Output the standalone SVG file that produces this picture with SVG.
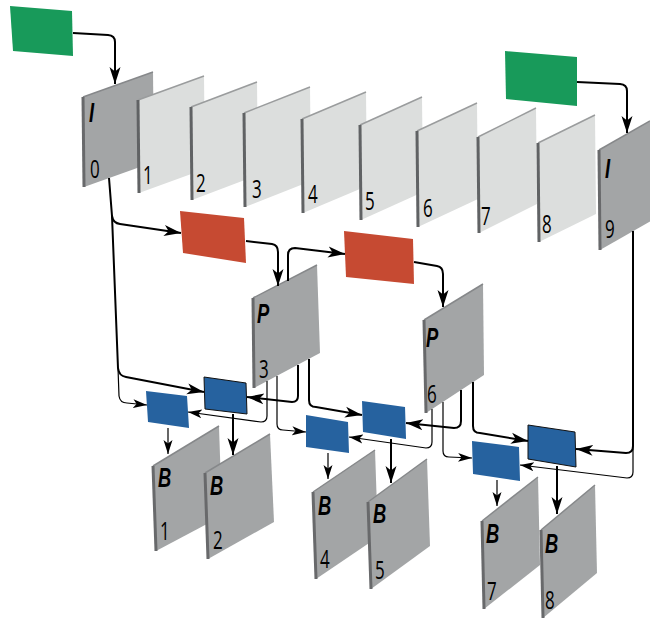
<svg xmlns="http://www.w3.org/2000/svg" width="650" height="622" viewBox="0 0 650 622">
<defs>
<style>
.fd{fill:#a3a5a6}
.fl{fill:#dcdedd}
.sd{stroke:#68696b;stroke-width:3;fill:none}
.sl{stroke:#606264;stroke-width:3;fill:none}
.td{stroke:#86888a;stroke-width:1.5;fill:none}
.tl{stroke:#9a9c9d;stroke-width:1.5;fill:none}
.green{fill:#189a5a}
.red{fill:#c64a32}
.blue{fill:#26629f}
.blueb{fill:#26629f;stroke:#111;stroke-width:1}
.lt{font-family:"Liberation Sans",Arial,sans-serif;font-weight:bold;font-style:italic;font-size:27px;fill:#000}
.num{font-family:"Open Sans","Liberation Sans",sans-serif;font-weight:400;font-size:25px;fill:#000}
.thick{fill:none;stroke:#000;stroke-width:2;marker-end:url(#ah)}
.thin{fill:none;stroke:#000;stroke-width:1.2;marker-end:url(#ahs)}
</style>
<marker id="ah" markerUnits="userSpaceOnUse" markerWidth="18" markerHeight="14" viewBox="0 0 18 14" refX="17" refY="7" orient="auto">
<path d="M0,1.5 L17,7 L0,12.5 L4.5,7 Z" fill="#000"/>
</marker>
<marker id="ahs" markerUnits="userSpaceOnUse" markerWidth="15" markerHeight="11" viewBox="0 0 15 11" refX="14" refY="5.5" orient="auto">
<path d="M0,1 L14,5.5 L0,10 L3.5,5.5 Z" fill="#000"/>
</marker>
</defs>
<rect width="650" height="622" fill="#fff"/>

<g id="nodes">
<g id="green1"><polygon class="green" points="10,6 72,11 73,56 13,51"/></g>
<g id="green2"><polygon class="green" points="505,51 577,57 577,106 506,99"/></g>

<g id="frame0"><polygon class="fd" points="83,97 153,72 154,162 84,187"/><line class="td" x1="83" y1="97" x2="153" y2="72"/><line class="sd" x1="83" y1="97" x2="84" y2="187"/>
<text class="lt" transform="translate(89,122) scale(0.68,1)">I</text><text class="num" transform="translate(90,178) scale(0.68,1)">0</text></g>
<g id="frame1"><polygon class="fl" points="138,100 204,76 205,169 139,193"/><line class="tl" x1="138" y1="100" x2="204" y2="76"/><line class="sl" x1="138" y1="100" x2="139" y2="193"/>
<text class="num" transform="translate(143,184) scale(0.68,1)">1</text></g>
<g id="frame2"><polygon class="fl" points="191,107 257,82 258,175 192,200"/><line class="tl" x1="191" y1="107" x2="257" y2="82"/><line class="sl" x1="191" y1="107" x2="192" y2="200"/>
<text class="num" transform="translate(196,192) scale(0.68,1)">2</text></g>
<g id="frame3"><polygon class="fl" points="244,113 310,87 311,181 245,207"/><line class="tl" x1="244" y1="113" x2="310" y2="87"/><line class="sl" x1="244" y1="113" x2="245" y2="207"/>
<text class="num" transform="translate(252,198) scale(0.68,1)">3</text></g>
<g id="frame4"><polygon class="fl" points="302,119 366,92 367,186 303,213"/><line class="tl" x1="302" y1="119" x2="366" y2="92"/><line class="sl" x1="302" y1="119" x2="303" y2="213"/>
<text class="num" transform="translate(308,203) scale(0.68,1)">4</text></g>
<g id="frame5"><polygon class="fl" points="360,125 422,97 423,192 361,220"/><line class="tl" x1="360" y1="125" x2="422" y2="97"/><line class="sl" x1="360" y1="125" x2="361" y2="220"/>
<text class="num" transform="translate(365,210) scale(0.68,1)">5</text></g>
<g id="frame6"><polygon class="fl" points="417,131 477,103 478,199 418,227"/><line class="tl" x1="417" y1="131" x2="477" y2="103"/><line class="sl" x1="417" y1="131" x2="418" y2="227"/>
<text class="num" transform="translate(423,217) scale(0.68,1)">6</text></g>
<g id="frame7"><polygon class="fl" points="478,137 536,108 537,204 479,233"/><line class="tl" x1="478" y1="137" x2="536" y2="108"/><line class="sl" x1="478" y1="137" x2="479" y2="233"/>
<text class="num" transform="translate(481,225) scale(0.68,1)">7</text></g>
<g id="frame8"><polygon class="fl" points="538,143 595,115 596,214 539,242"/><line class="tl" x1="538" y1="143" x2="595" y2="115"/><line class="sl" x1="538" y1="143" x2="539" y2="242"/>
<text class="num" transform="translate(542,233) scale(0.68,1)">8</text></g>
<g id="frame9"><polygon class="fd" points="599,150 650,121 651,221 600,250"/><line class="td" x1="599" y1="150" x2="650" y2="121"/><line class="sd" x1="599" y1="150" x2="600" y2="250"/>
<text class="lt" transform="translate(605,178) scale(0.68,1)">I</text><text class="num" transform="translate(605,238) scale(0.68,1)">9</text></g>

<g id="red1"><polygon class="red" points="180,211 244,218 246,263 183,253"/></g>
<g id="red2"><polygon class="red" points="344,231 413,239 414,284 346,277"/></g>

<g id="frameP3"><polygon class="fd" points="253,298 317,265 320,353 254,388"/><line class="td" x1="253" y1="298" x2="317" y2="265"/><line class="sd" x1="253" y1="298" x2="254" y2="388"/>
<text class="lt" transform="translate(257,323) scale(0.68,1)">P</text><text class="num" transform="translate(259,378) scale(0.68,1)">3</text></g>
<g id="frameP6"><polygon class="fd" points="424,320 483,284 484,375 426,413"/><line class="td" x1="424" y1="320" x2="483" y2="284"/><line class="sd" x1="424" y1="320" x2="426" y2="413"/>
<text class="lt" transform="translate(426,347) scale(0.68,1)">P</text><text class="num" transform="translate(427,403) scale(0.68,1)">6</text></g>

<g id="blueA"><polygon class="blue" points="146,391 187,396 189,428 148,422"/></g>
<g id="blueB"><polygon class="blueb" points="204,377 246,383 247,414 205,409"/></g>
<g id="blueC"><polygon class="blue" points="306,415 348,422 349,453 306,447"/></g>
<g id="blueD"><polygon class="blue" points="362,401 405,407 406,439 363,432"/></g>
<g id="blueE"><polygon class="blue" points="472,441 519,447 520,481 473,474"/></g>
<g id="blueF"><polygon class="blueb" points="528,425 575,432 576,467 528,459"/></g>

<g id="frameB1"><polygon class="fd" points="153,466 219,426 222,516 156,551"/><line class="td" x1="153" y1="466" x2="219" y2="426"/><line class="sd" x1="153" y1="466" x2="156" y2="551"/>
<text class="lt" transform="translate(158,487) scale(0.68,1)">B</text><text class="num" transform="translate(160,540) scale(0.68,1)">1</text></g>
<g id="frameB2"><polygon class="fd" points="205,473 270,434 274,522 208,559"/><line class="td" x1="205" y1="473" x2="270" y2="434"/><line class="sd" x1="205" y1="473" x2="208" y2="559"/>
<text class="lt" transform="translate(210,495) scale(0.68,1)">B</text><text class="num" transform="translate(213,549) scale(0.68,1)">2</text></g>
<g id="frameB4"><polygon class="fd" points="313,492 375,450 378,537 316,579"/><line class="td" x1="313" y1="492" x2="375" y2="450"/><line class="sd" x1="313" y1="492" x2="316" y2="579"/>
<text class="lt" transform="translate(318,515) scale(0.68,1)">B</text><text class="num" transform="translate(320,568) scale(0.68,1)">4</text></g>
<g id="frameB5"><polygon class="fd" points="368,502 427,459 430,546 371,589"/><line class="td" x1="368" y1="502" x2="427" y2="459"/><line class="sd" x1="368" y1="502" x2="371" y2="589"/>
<text class="lt" transform="translate(373,523) scale(0.68,1)">B</text><text class="num" transform="translate(375,579) scale(0.68,1)">5</text></g>
<g id="frameB7"><polygon class="fd" points="482,521 538,477 540,565 484,609"/><line class="td" x1="482" y1="521" x2="538" y2="477"/><line class="sd" x1="482" y1="521" x2="484" y2="609"/>
<text class="lt" transform="translate(486,543) scale(0.68,1)">B</text><text class="num" transform="translate(487,600) scale(0.68,1)">7</text></g>
<g id="frameB8"><polygon class="fd" points="541,530 595,485 597,573 543,618"/><line class="td" x1="541" y1="530" x2="595" y2="485"/><line class="sd" x1="541" y1="530" x2="543" y2="618"/>
<text class="lt" transform="translate(545,553) scale(0.68,1)">B</text><text class="num" transform="translate(545,609) scale(0.68,1)">8</text></g>
</g>

<g id="connectors">
<path class="thick" d="M73,33 L108,35 Q115,35.5 115,42 L115,84"/>
<path class="thick" d="M577,82 L620,84 Q627,84.5 627,91 L627,133"/>
<path class="thick" d="M109,178 L112,216 Q113,223 120,224 L181,233"/>
<path class="thick" d="M112,216 L118,368 Q119,376 126,377 L204,392"/>
<path class="thin" d="M118,368 L119,396 Q120,403 127,403 L147,405"/>
<path class="thick" d="M246,241 L272,244 Q278,245 278,252 L278,286"/>
<path class="thick" d="M288,281 L288,255 Q288,248 295,248 L345,254"/>
<path class="thick" d="M414,262 L437,266 Q443,267 443,274 L443,307"/>
<path class="thick" d="M298,365 L298,396 Q298,402 292,402 L247,397"/>
<path class="thin" d="M267,381 L267,416 Q267,422 261,422 L188,412"/>
<path class="thin" d="M277,376 L277,424 Q277,430 283,430 L306,432"/>
<path class="thick" d="M309,359 L309,400 Q309,407 316,407 L362,415"/>
<path class="thick" d="M461,390 L461,421 Q461,428 454,428 L406,423"/>
<path class="thin" d="M432,409 L432,442 Q432,448 426,448 L349,437"/>
<path class="thin" d="M443,402 L443,451 Q443,457 449,457 L472,458"/>
<path class="thick" d="M473,382 L473,426 Q473,433 480,433 L528,441"/>
<path class="thick" d="M633,231 L633,446 Q633,453 626,453 L576,449"/>
<path class="thin" d="M633,446 L633,472 Q633,478 627,478 L520,465"/>
<path class="thin" d="M168,428 L168,454"/>
<path class="thick" d="M233,414 L233,455"/>
<path class="thin" d="M328,453 L328,479"/>
<path class="thick" d="M391,439 L391,483"/>
<path class="thin" d="M497,480 L497,506"/>
<path class="thick" d="M557,466 L557,514"/>
</g>
</svg>
